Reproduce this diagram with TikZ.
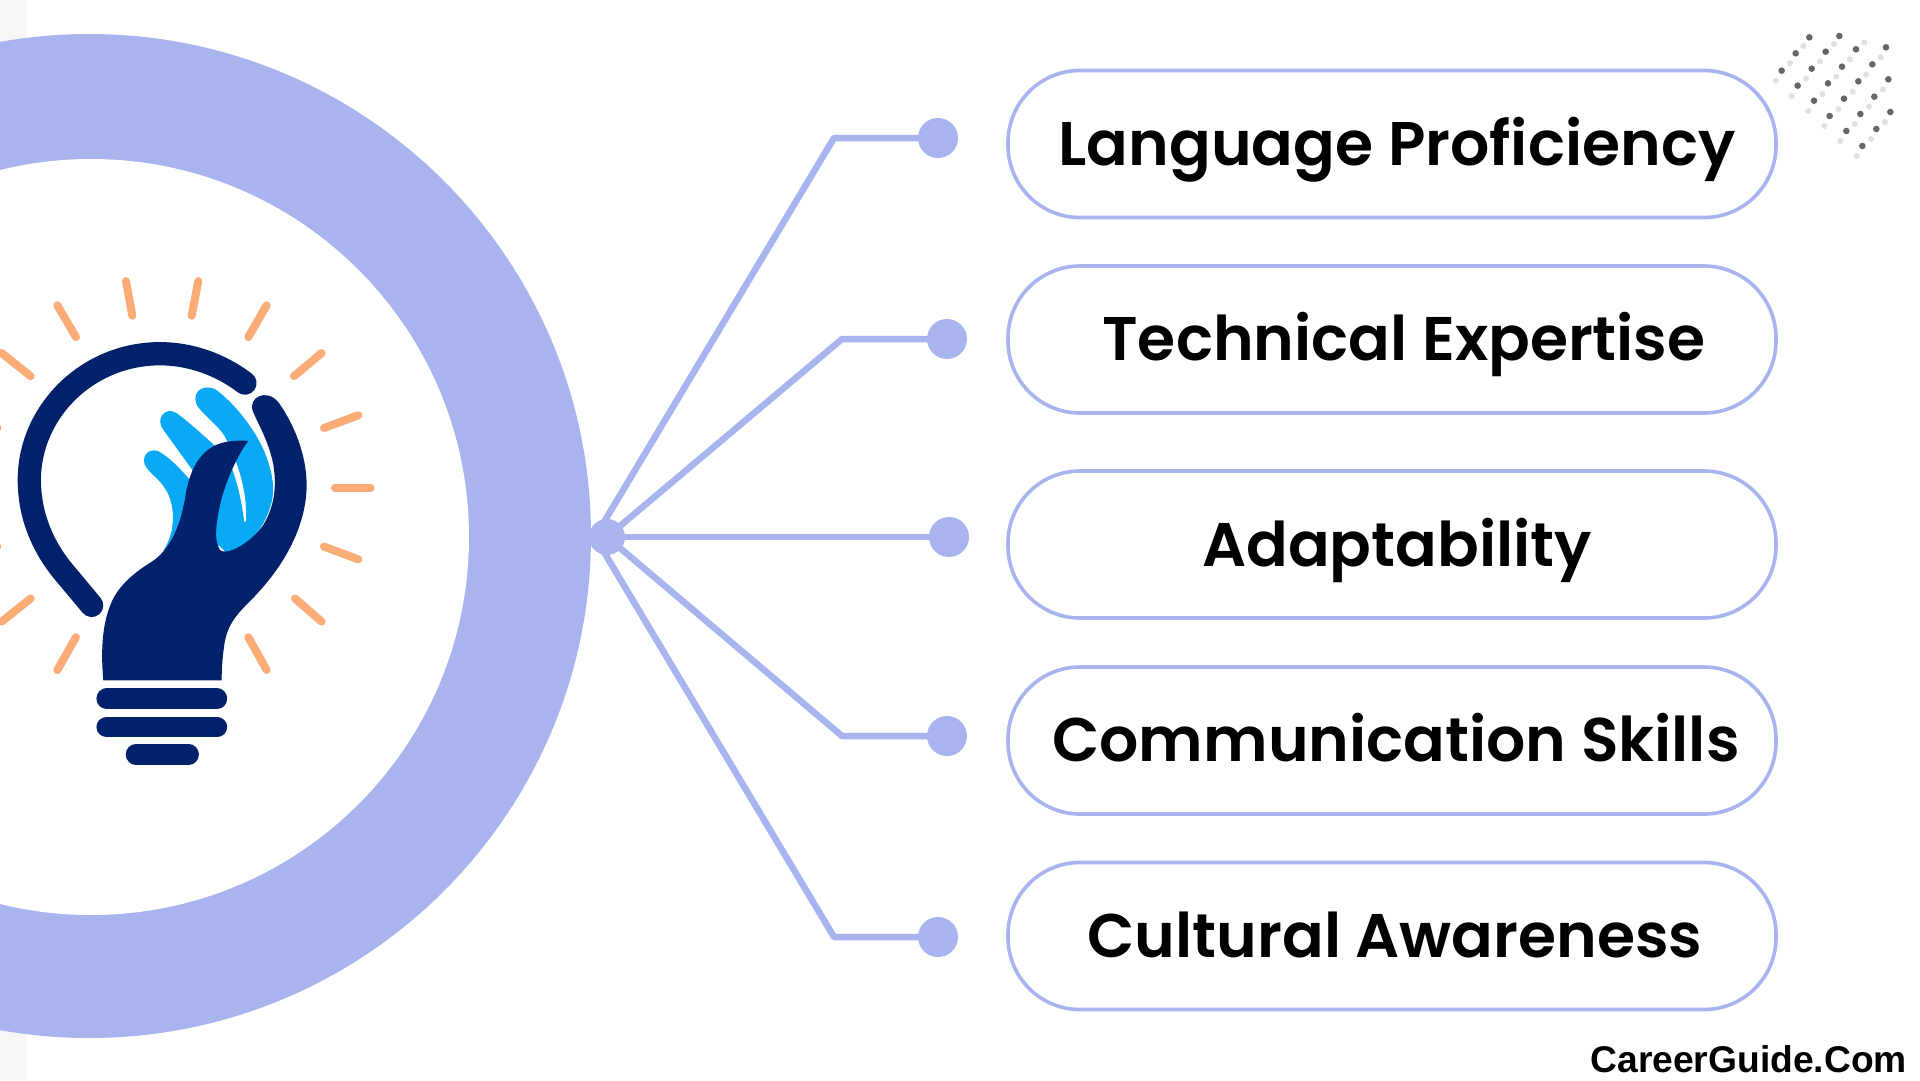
\documentclass[tikz,border=0pt]{standalone}
\usepackage{fontspec}
\newfontfamily\popf{Poppins SemiBold}
\newfontfamily\brandf{Liberation Sans}[BoldFont={Liberation Sans Bold}]
\definecolor{peri}{HTML}{A9B4EF}
\definecolor{navy}{HTML}{02216B}
\definecolor{sky}{HTML}{0AA9F5}
\definecolor{ray}{HTML}{FBAB76}
\tikzset{
 pill/.style={draw=peri,line width=3.6pt,fill=white,rounded corners=72pt,minimum width=768pt,minimum height=147pt,inner sep=0pt},
 pilltext/.style={font=\popf\fontsize{61.6}{62}\selectfont,anchor=base,inner sep=0pt,text=black},
 dotnode/.style={circle,fill=peri,minimum size=40pt,inner sep=0pt},
 hubnode/.style={circle,fill=peri,minimum size=36pt,inner sep=0pt},
 link/.style={draw=peri,line width=6.5pt,line join=round},
 rayline/.style={draw=ray,line width=8pt,line cap=round},
 darkdot/.style={fill=black!60},
 lightdot/.style={fill=black!12},
 basebar/.style={draw=navy,line width=20.5pt,line cap=round}
}
\begin{document}
\begin{tikzpicture}[x=1pt,y=-1pt]
\useasboundingbox (0,0) rectangle (1920,1080);
\fill[white] (0,0) rectangle (1920,1080);
\fill[black!3] (0,0) rectangle (27,1080);
% ring
\fill[peri] (89,536) circle (502);
\fill[white] (91,537) circle (378);
% links
\node[hubnode] (hub) at (607,537) {};
\coordinate (hubw) at (595,537);
\node[dotnode] (d1) at (938,138) {};
\node[dotnode] (d2) at (947,339) {};
\node[dotnode] (d3) at (949,537) {};
\node[dotnode] (d4) at (947,736) {};
\node[dotnode] (d5) at (938,937) {};
\coordinate (e1) at (834,138);
\coordinate (e2) at (842,339);
\coordinate (e4) at (842,736);
\coordinate (e5) at (834,937);
\draw[link] (hubw) -- (e1) -- (d1.center);
\draw[link] (hub.center) -- (e2) -- (d2.center);
\draw[link] (hub.center) -- (d3.center);
\draw[link] (hub.center) -- (e4) -- (d4.center);
\draw[link] (hubw) -- (e5) -- (d5.center);
% pills
\node[pill] (p1) at (1392,144) {};
\node[pill] (p2) at (1392,339.5) {};
\node[pill] (p3) at (1392,544.5) {};
\node[pill] (p4) at (1392,740.5) {};
\node[pill] (p5) at (1392,936) {};
\node[pilltext] (t1) at (1397,165) {Language Proficiency};
\node[pilltext] (t2) at (1404,360) {Technical Expertise};
\node[pilltext] (t3) at (1397,566) {Adaptability};
\node[pilltext] (t4) at (1396,761) {Communication Skills};
\node[pilltext] (t5) at (1395,957) {Cultural Awareness};
\node[anchor=base east,inner sep=0pt,font=\brandf\bfseries\fontsize{37.2}{38}\selectfont,text=black] (brand) at (1907,1072) {CareerGuide.Com};
% dot pattern
\begin{scope}[shift={(1760,20)},x=0.3333pt,y=-0.3333pt]
\foreach \p in {(130,78),(222,72),(313,67),(90,130),(180,124),(270,118),(362,112),(47,182),(138,176),(229,170),(318,164),(95,228),(187,222),(278,215),(369,209),(145,273),(235,267),(327,260),(193,318),(284,312),(375,306),(241,363),(333,357),(290,408)}
  \fill[lightdot] \p circle (3pt);
\foreach \p in {(148,52),(238,48),(107,100),(197,95),(288,88),(378,82),(65,152),(155,146),(246,140),(337,133),(113,197),(204,190),(295,184),(385,178),(162,242),(252,236),(343,230),(209,288),(301,282),(391,276),(259,333),(349,327),(307,378)}
  \fill[darkdot] \p circle (3.3pt);
\end{scope}
% bulb
\begin{scope}[shift={(0,250)},x=0.3333pt,y=-0.3457pt]
\draw[rayline] (378,90)--(397,190);
\draw[rayline] (595,90)--(575,190);
\draw[rayline] (172,160)--(228,252);
\draw[rayline] (800,160)--(745,252);
\draw[rayline] (5,298)--(92,365);
\draw[rayline] (965,298)--(882,365);
\draw[rayline] (1075,478)--(972,515);
\draw[rayline] (1112,687)--(1005,687);
\draw[rayline] (1075,895)--(972,858);
\draw[rayline] (965,1075)--(885,1008);
\draw[rayline] (800,1215)--(745,1120);
\draw[rayline] (228,1120)--(172,1215);
\draw[rayline] (92,1008)--(5,1075);
\draw[rayline] (-60,535)--(-8,514);
\draw[rayline] (-60,838)--(-8,858);
% glass outline
\draw[navy,line width=23.3pt,line cap=round] (735,385) .. controls (660,330) and (570,300) .. (480,300) .. controls (260,300) and (88,470) .. (88,665) .. controls (88,770) and (130,860) .. (190,930) -- (275,1028);
% blue fingers
\fill[sky] (440,630) .. controls (420,605) and (440,570) .. (475,582) .. controls (510,600) and (550,640) .. (600,700) -- (540,880) -- (490,870) .. controls (525,820) and (530,740) .. (495,690) .. controls (480,665) and (455,650) .. (440,630) -- cycle;
\fill[sky] (490,520) .. controls (465,490) and (495,450) .. (530,472) .. controls (570,500) and (640,560) .. (680,600) .. controls (705,640) and (725,720) .. (733,790) -- (650,860) -- (610,680) -- cycle;
\fill[sky] (595,455) .. controls (570,420) and (600,385) .. (645,402) .. controls (700,440) and (770,520) .. (800,600) .. controls (825,670) and (830,720) .. (790,790) .. controls (760,840) and (715,870) .. (680,876) -- (640,840) -- (725,790) -- (738,785) .. controls (742,700) and (718,620) .. (672,535) .. controls (650,505) and (620,485) .. (595,455) -- cycle;
% hand
\fill[navy] (310,1245) .. controls (303,1170) and (305,1090) .. (330,1030) .. controls (350,975) and (400,935) .. (450,905) .. controls (510,870) and (540,800) .. (555,720) .. controls (565,650) and (590,595) .. (640,568) .. controls (670,552) and (710,550) .. (745,552) .. controls (715,590) and (680,660) .. (662,730) .. controls (650,780) and (640,840) .. (660,868) .. controls (680,885) and (750,850) .. (790,795) .. controls (825,740) and (830,680) .. (820,620) .. controls (805,550) and (775,505) .. (758,465) .. controls (745,425) and (800,400) .. (835,440) .. controls (880,500) and (920,590) .. (920,680) .. controls (920,790) and (860,900) .. (780,985) .. controls (740,1030) and (690,1060) .. (675,1130) .. controls (668,1170) and (665,1210) .. (665,1245) -- cycle;
% base
\draw[basebar] (320,1298) -- (651,1298);
\draw[basebar] (320,1380) -- (651,1380);
\draw[basebar] (408,1459) -- (566,1459);
\end{scope}
\end{tikzpicture}
\end{document}
